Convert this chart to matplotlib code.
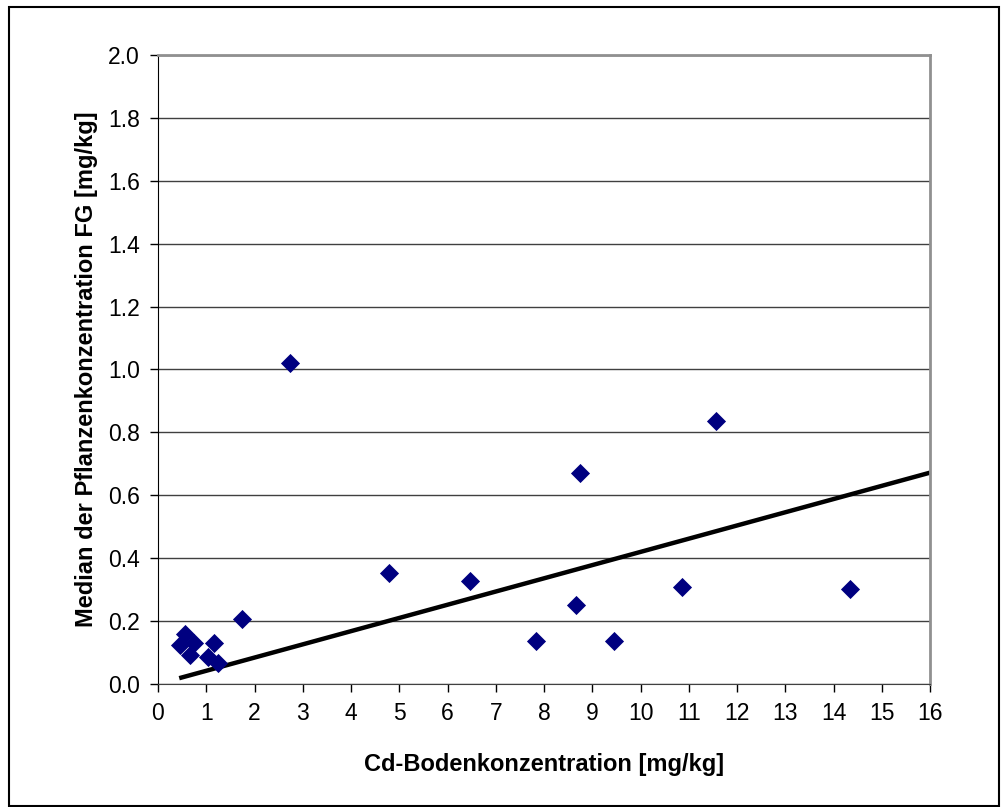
import numpy as np
import matplotlib.pyplot as plt
from matplotlib.patches import Rectangle

plt.rcParams["font.family"] = ["Liberation Sans", "DejaVu Sans"]
plt.rcParams["font.size"] = 16.5

# soil concentration vs. plant concentration (median)
cd_boden = [0.46, 0.55, 0.66, 0.75, 1.04, 1.17, 1.25, 1.75, 2.74, 4.78,
            6.47, 7.84, 8.67, 8.75, 9.46, 10.87, 11.57, 14.35]
cd_pflanze = [0.124, 0.159, 0.092, 0.131, 0.087, 0.131, 0.068, 0.206, 1.022, 0.354,
              0.328, 0.138, 0.251, 0.671, 0.138, 0.308, 0.836, 0.301]

# trend line (through origin)
trend_x = [0.44, 16.0]
trend_slope = 0.042

x_ticks = np.arange(0, 17, 1)
y_ticks = np.arange(0, 2.01, 0.2)

W, H = 1005, 807
fig = plt.figure(figsize=(W / 100, H / 100), dpi=100)
ax = fig.add_axes([158 / W, 1 - 684 / H, (930 - 158) / W, (684 - 55) / H])

# outer chart frame
fig.patches.append(Rectangle((9 / W, 1 - 806 / H), (999 - 9) / W, (806 - 7) / H,
                             transform=fig.transFigure, fill=False,
                             edgecolor="black", linewidth=1.5))

ax.set_axisbelow(True)
ax.grid(axis="y", color="#404040", linewidth=1.0)

ax.plot(trend_x, [trend_slope * v for v in trend_x], color="black", linewidth=3.2,
        solid_capstyle="butt")
ax.scatter(cd_boden, cd_pflanze, marker="D", s=95, color="#000080", zorder=3,
           linewidths=0)

ax.set_xlim(0, 16)
ax.set_ylim(0, 2.0)
ax.set_xticks(x_ticks)
ax.set_yticks(y_ticks)
ax.set_yticklabels(["%.1f" % v for v in y_ticks])

ax.tick_params(direction="out", length=6, width=1, color="black", pad=7)

ax.spines["left"].set_color("black")
ax.spines["bottom"].set_color("#404040")
ax.spines["top"].set_color("#909090")
ax.spines["right"].set_color("#909090")
ax.spines["top"].set_linewidth(2)
ax.spines["right"].set_linewidth(2)

ax.set_xlabel("Cd-Bodenkonzentration [mg/kg]", fontsize=17, fontweight="bold", labelpad=20)
ax.set_ylabel("Median der Pflanzenkonzentration FG [mg/kg]", fontsize=17,
              fontweight="bold", labelpad=7)

fig.savefig("out.png", dpi=100)
